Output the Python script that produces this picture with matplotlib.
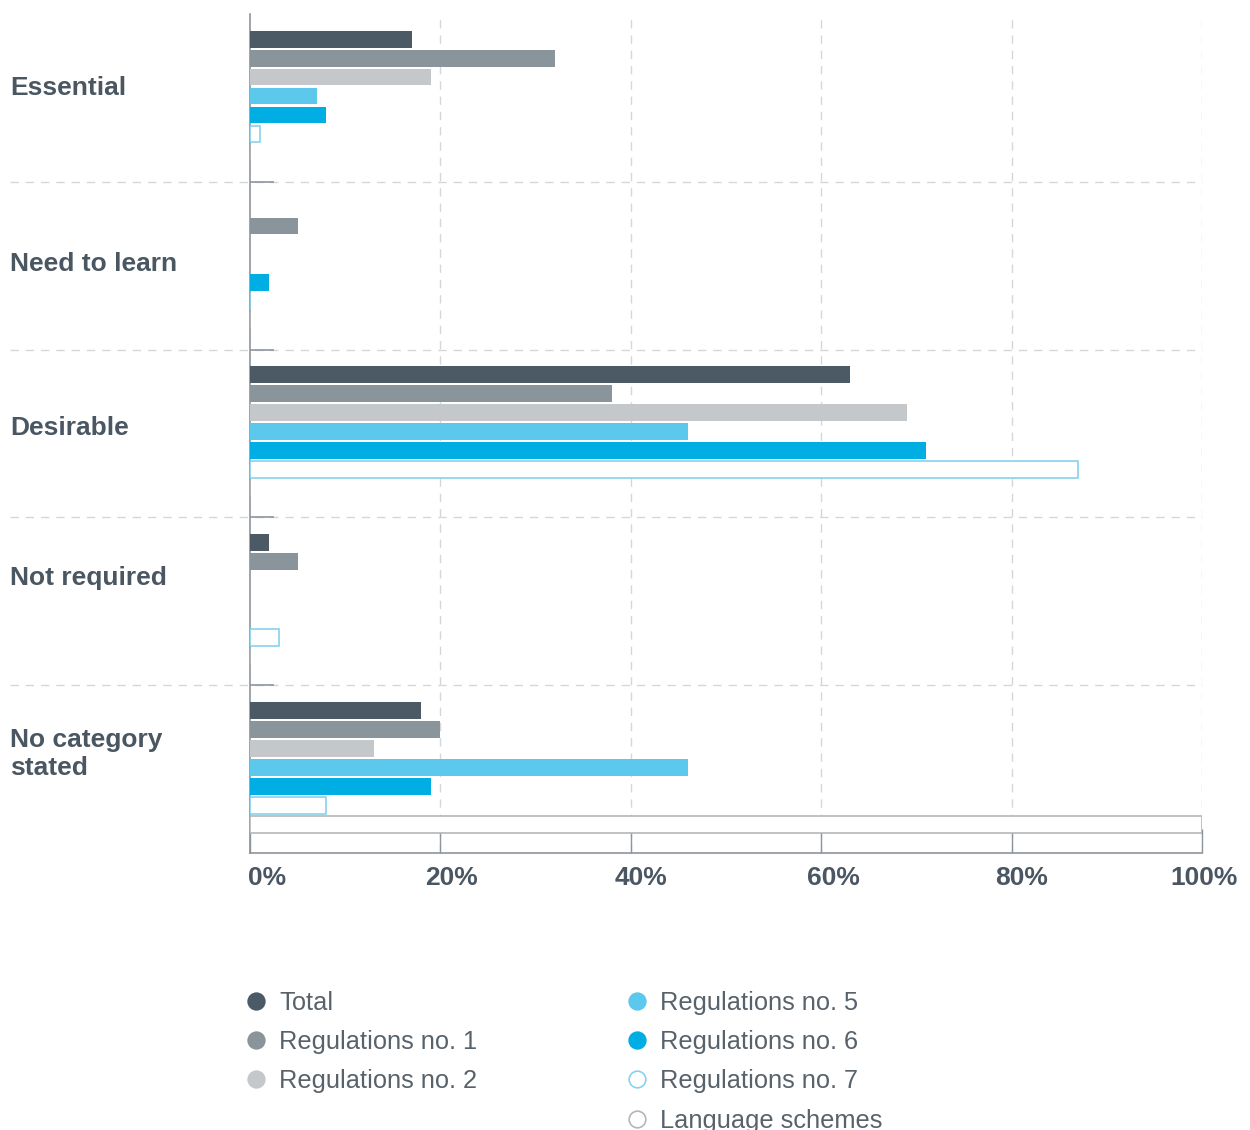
import matplotlib
matplotlib.use('Agg')
import matplotlib.pyplot as plt
import matplotlib.transforms as mtransforms
from matplotlib.lines import Line2D
import numpy as np

plt.rcParams['font.family'] = ['Liberation Sans', 'DejaVu Sans']

# data
categories = ['Essential', 'Need to learn', 'Desirable', 'Not required', 'No category\nstated']
series = ['Total', 'Regulations no. 1', 'Regulations no. 2', 'Regulations no. 5',
          'Regulations no. 6', 'Regulations no. 7', 'Language schemes']
total = [17, 0, 63, 2, 18]
reg1 = [32, 5, 38, 5, 20]
reg2 = [19, 0, 69, 0, 13]
reg5 = [7, 0, 46, 0, 46]
reg6 = [8, 2, 71, 0, 19]
reg7 = [1, 0, 87, 3, 8]
lang = [0, 0, 0, 0, 100]
xticks = [0, 20, 40, 60, 80, 100]
xticklabels = ['0%', '20%', '40%', '60%', '80%', '100%']

values = [total, reg1, reg2, reg5, reg6, reg7, lang]
faces = ['#4c5a66', '#8a949b', '#c5c8cb', '#5bc8ec', '#00aee3', 'white', 'white']
edges = ['#4c5a66', '#8a949b', '#c5c8cb', '#5bc8ec', '#00aee3', '#86d3ec', '#b3b7ba']
lws = [0, 0, 0, 0, 0, 1.2, 1.2]

txt_dark = '#4a5763'
axis_col = '#8d959b'
grid_col = '#d3d7da'

fig = plt.figure(figsize=(12.5, 11.3), dpi=100)
ax = fig.add_axes([0.2, 0.2451, 0.7616, 0.7425])

offset0 = 0.15
pitch = 0.113
bh = 0.1
for j in range(len(series)):
    ys = np.arange(len(categories)) + offset0 + j * pitch
    ax.barh(ys, values[j], height=bh, color=faces[j], edgecolor=edges[j],
            linewidth=lws[j], zorder=3)

ax.set_xlim(0, 100)
ax.set_ylim(len(categories), 0)

# vertical dashed grid
for x in xticks[1:]:
    ax.axvline(x, color=grid_col, lw=1, ls=(0, (6, 5)), zorder=1)

# horizontal separators extending into label area
trans = mtransforms.blended_transform_factory(ax.transAxes, ax.transData)
for k in range(1, len(categories)):
    ax.plot([-0.252, 1.0], [k, k], transform=trans, color=grid_col, lw=1,
            ls=(0, (6, 5)), clip_on=False, zorder=1)

ax.set_yticks(range(1, len(categories)))
ax.set_yticklabels([])
ax.tick_params(axis='y', direction='in', length=17, width=1.2, color=axis_col)

ax.set_xticks(xticks)
ax.set_xticklabels(xticklabels, fontsize=19, fontweight='bold', color=txt_dark)
ax.tick_params(axis='x', direction='in', length=17, width=1, color=axis_col, pad=9)
label_shift = [17, 11, 10, 12, 10, 2]
for lab, dx in zip(ax.get_xticklabels(), label_shift):
    lab.set_transform(lab.get_transform() + mtransforms.ScaledTranslation(dx / 100, 0, fig.dpi_scale_trans))

for s in ['top', 'right']:
    ax.spines[s].set_visible(False)
for s in ['left', 'bottom']:
    ax.spines[s].set_color(axis_col)
    ax.spines[s].set_linewidth(1.2)

# category labels
label_dy = [0.44, 0.49, 0.47, 0.36, 0.41]
for i, c in enumerate(categories):
    ax.text(-0.252, i + label_dy[i], c, transform=trans, fontsize=19,
            fontweight='bold', color=txt_dark, ha='left', va='center',
            linespacing=1.2)

# legend
def handle(j):
    return Line2D([], [], ls='none', marker='o', ms=12, markerfacecolor=faces[j],
                  markeredgecolor=edges[j], markeredgewidth=1.2)

leg_kw = dict(frameon=False, fontsize=18.3, labelcolor='#58626b', handlelength=1.0,
              handletextpad=0.4, borderpad=0, borderaxespad=0, labelspacing=0.6)
leg1 = fig.legend([handle(j) for j in range(3)], series[:3], loc='upper left',
                  bbox_to_anchor=(0.1948, 0.1232), **leg_kw)
leg2 = fig.legend([handle(j) for j in range(3, 7)], series[3:], loc='upper left',
                  bbox_to_anchor=(0.4996, 0.1232), **leg_kw)

fig.savefig('out.png', dpi=100, facecolor='white')
